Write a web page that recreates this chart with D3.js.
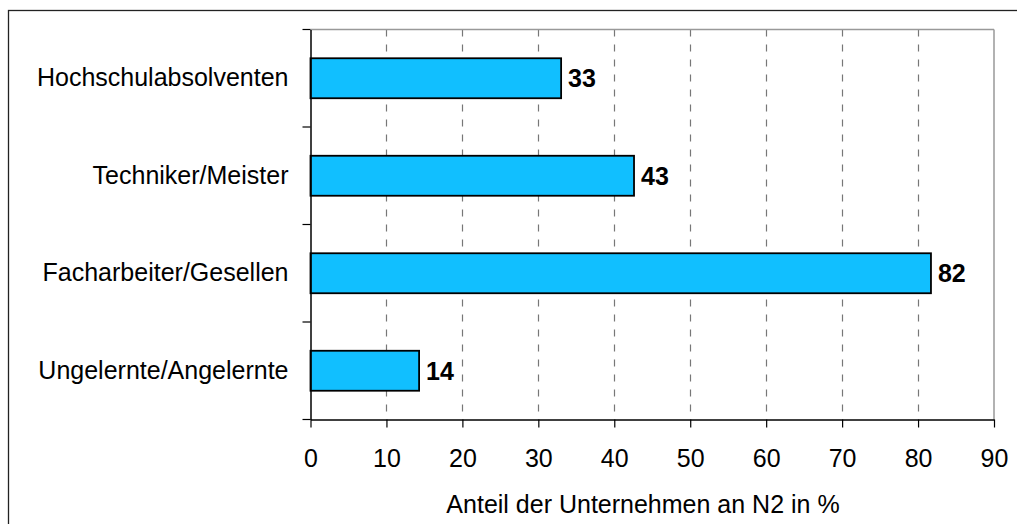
<!DOCTYPE html>
<html><head><meta charset="utf-8">
<script src="https://cdn.jsdelivr.net/npm/d3@7"></script>
<style>
html,body{margin:0;padding:0;background:#fff;}
svg{display:block;font-family:"Liberation Sans",Arial,sans-serif;}
</style></head>
<body>
<svg id="chart" width="1017" height="524"></svg>
<script>
const categories = ["Hochschulabsolventen","Techniker/Meister","Facharbeiter/Gesellen","Ungelernte/Angelernte"];
const values = [33.0, 42.6, 81.7, 14.3];
const valueLabels = ["33","43","82","14"];
const xTicks = [0,10,20,30,40,50,60,70,80,90];
const xTitle = "Anteil der Unternehmen an N2 in %";

(function(){
const svg = d3.select("#chart");
const pL = 310.5, pR = 994, pT = 29.5, pB = 419.5;
const FS = 25;

svg.append("rect").attr("x",8.5).attr("y",10.5).attr("width",1017).attr("height",600)
  .attr("fill","none").attr("stroke","#222").attr("stroke-width",1.3);

const x = d3.scaleLinear().domain([0,90]).range([pL,pR]);
const y = d3.scaleBand().domain(categories).range([pT,pB]).paddingInner(0.59).paddingOuter(0.295);
const yb = d3.scaleBand().domain(categories).range([pT,pB]);

svg.append("g").selectAll("line").data(xTicks.filter(t=>t>0 && t<90)).join("line")
  .attr("x1",d=>Math.round(x(d))+0.5).attr("x2",d=>Math.round(x(d))+0.5)
  .attr("y1",pT).attr("y2",pB)
  .attr("stroke","#777").attr("stroke-width",1.2).attr("stroke-dasharray","7,8");

svg.append("line").attr("x1",pL).attr("x2",pR).attr("y1",pT).attr("y2",pT).attr("stroke","#999").attr("stroke-width",1.5);
svg.append("line").attr("x1",pR).attr("x2",pR).attr("y1",pT).attr("y2",pB).attr("stroke","#999").attr("stroke-width",1.5);

svg.append("g").selectAll("rect").data(categories).join("rect")
  .attr("x",x(0)).attr("y",d=>y(d))
  .attr("width",(d,i)=>x(values[i])-x(0)).attr("height",y.bandwidth())
  .attr("fill","#11bfff").attr("stroke","#000").attr("stroke-width",1.8);

svg.append("g").selectAll("text").data(categories).join("text")
  .attr("x",(d,i)=>x(values[i])+7).attr("y",d=>y(d)+y.bandwidth()/2+9)
  .attr("font-size",FS).attr("font-weight","bold").attr("fill","#000")
  .text((d,i)=>valueLabels[i]);

const xAxis = d3.axisBottom(x).tickValues(xTicks).tickSize(8).tickPadding(21.5).tickSizeOuter(0);
const gx = svg.append("g").attr("transform",`translate(0,${pB})`).call(xAxis);
gx.select(".domain").attr("stroke","#000").attr("stroke-width",1.5);
gx.selectAll(".tick line").attr("stroke","#000").attr("stroke-width",1.2);
gx.selectAll(".tick text").attr("font-size",FS).attr("fill","#000").attr("font-family","Liberation Sans, Arial, sans-serif");

const yAxis = d3.axisLeft(yb).tickSize(0).tickPadding(22);
const gy = svg.append("g").attr("transform",`translate(${pL},0)`).call(yAxis);
gy.select(".domain").attr("stroke","#000").attr("stroke-width",1.5);
gy.selectAll(".tick text").attr("font-size",FS).attr("fill","#000").attr("font-family","Liberation Sans, Arial, sans-serif");
const bounds = categories.map(c=>yb(c)).concat([pB]);
svg.append("g").selectAll("line").data(bounds).join("line")
  .attr("x1",pL-8).attr("x2",pL).attr("y1",d=>d).attr("y2",d=>d)
  .attr("stroke","#000").attr("stroke-width",1.2);

svg.append("text").attr("x",643).attr("y",513).attr("text-anchor","middle")
  .attr("font-size",FS).attr("fill","#000").text(xTitle);
})();
</script>
</body></html>
